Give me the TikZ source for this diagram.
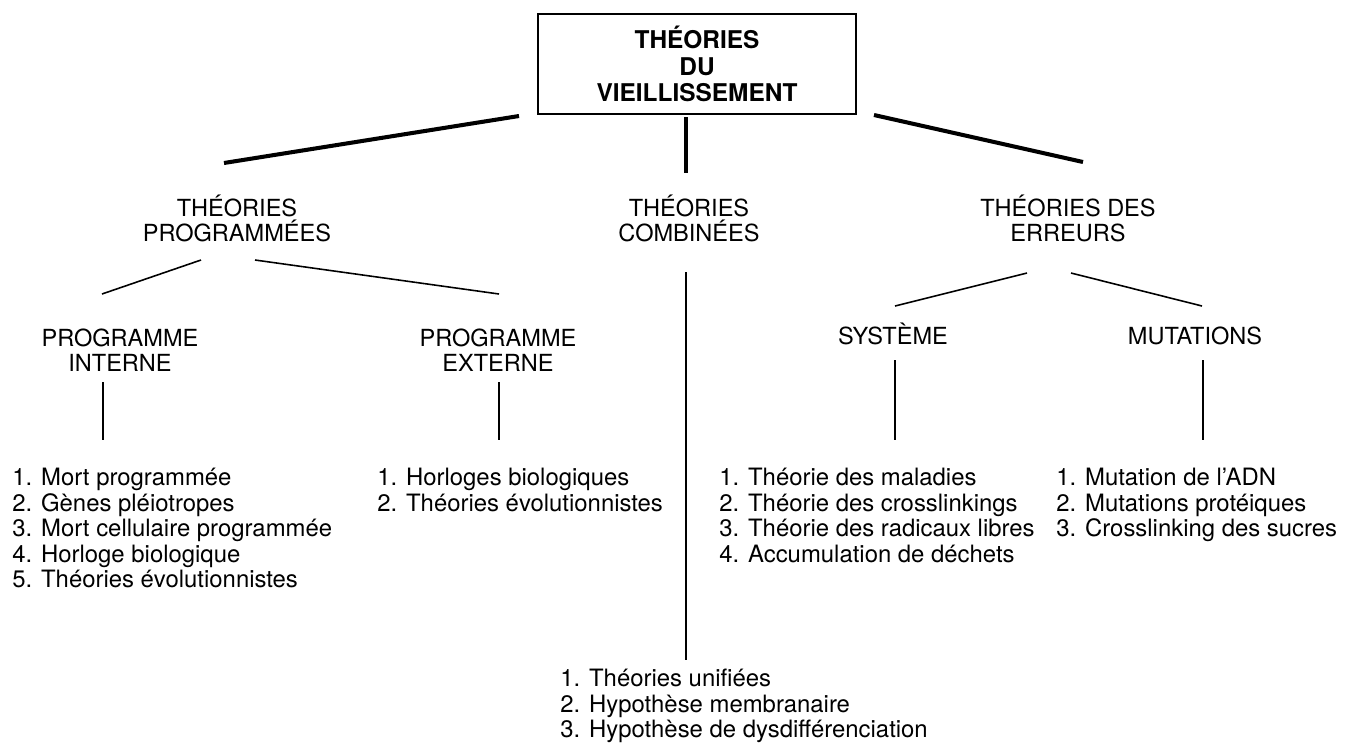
\documentclass[tikz,border=0pt]{standalone}
\usepackage{fontspec}
\setmainfont{TeX Gyre Heros}
\usepackage{tikz}
\usetikzlibrary{positioning}

\begin{document}
\begin{tikzpicture}[
    x=0.02cm, y=-0.02cm,
    rootbox/.style={draw, line width=1.1pt, minimum width=6.36cm, minimum height=2cm, align=center, font=\bfseries\fontsize{13.9}{15}\selectfont},
    heading/.style={align=center, inner sep=0pt, font=\fontsize{13.4}{14.2}\selectfont},
    itemlist/.style={align=left, inner sep=0pt, anchor=north west, font=\fontsize{13.6}{14.5}\selectfont},
    trunk/.style={line width=2.3pt},
    branch/.style={line width=0.9pt},
]
\useasboundingbox (0,0) rectangle (1347,745);

\node[rootbox] (root) at (697,64) {THÉORIES\\DU\\VIEILLISSEMENT};

\node[heading] (prog) at (237,218) {THÉORIES\\PROGRAMMÉES};
\node[heading] (comb) at (689,218) {THÉORIES\\COMBINÉES};
\node[heading] (err) at (1068,218) {THÉORIES DES\\ERREURS};

\node[heading] (pint) at (120,350) {PROGRAMME\\INTERNE};
\node[heading] (pext) at (498,350) {PROGRAMME\\EXTERNE};
\node[heading] (sys) at (893,334) {SYSTÈME};
\node[heading] (mut) at (1195,336) {MUTATIONS};

\node[itemlist] (pilist) at (12,468) {1. Mort programmée\\2. Gènes pléiotropes\\3. Mort cellulaire programmée\\4. Horloge biologique\\5. Théories évolutionnistes};
\node[itemlist] (pelist) at (377,468) {1. Horloges biologiques\\2. Théories évolutionnistes};
\node[itemlist] (syslist) at (719,468) {1. Théorie des maladies\\2. Théorie des crosslinkings\\3. Théorie des radicaux libres\\4. Accumulation de déchets};
\node[itemlist] (mutlist) at (1056,468) {1. Mutation de l’ADN\\2. Mutations protéiques\\3. Crosslinking des sucres};
\node[itemlist] (comblist) at (560,669) {1. Théories unifiées\\2. Hypothèse membranaire\\3. Hypothèse de dysdifférenciation};

\draw[trunk] ([shift={(-178,52)}]root.center) -- ([shift={(-13,-55)}]prog.center);
\draw[trunk] ([shift={(-11,53)}]root.center) -- ([shift={(-3,-45)}]comb.center);
\draw[trunk] ([shift={(177,51)}]root.center) -- ([shift={(15,-56)}]err.center);

\draw[branch] ([shift={(-36,42)}]prog.center) -- ([shift={(-18,-56)}]pint.center);
\draw[branch] ([shift={(18,42)}]prog.center) -- ([shift={(1,-56)}]pext.center);
\draw[branch] ([shift={(-41,55)}]err.center) -- ([shift={(2,-28)}]sys.center);
\draw[branch] ([shift={(3,55)}]err.center) -- ([shift={(7,-30)}]mut.center);

\draw[branch] ([shift={(-17,32)}]pint.center) -- ([shift={(91,-28)}]pilist.north west);
\draw[branch] ([shift={(1,32)}]pext.center) -- ([shift={(122,-28)}]pelist.north west);
\draw[branch] ([shift={(-3,54)}]comb.center) -- ([shift={(126,-9)}]comblist.north west);
\draw[branch] ([shift={(2,26)}]sys.center) -- ([shift={(176,-28)}]syslist.north west);
\draw[branch] ([shift={(8,24)}]mut.center) -- ([shift={(147,-28)}]mutlist.north west);
\end{tikzpicture}
\end{document}
